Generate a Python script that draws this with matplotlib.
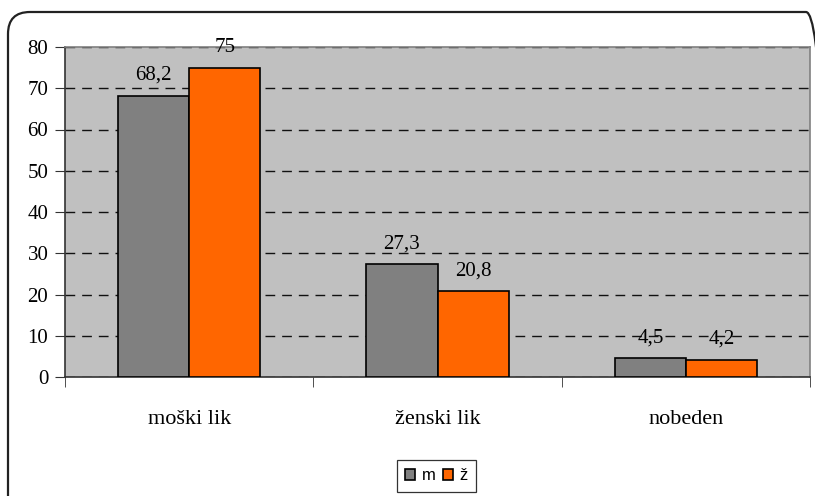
import matplotlib
matplotlib.use("Agg")
import matplotlib.pyplot as plt
import numpy as np
from matplotlib.patches import FancyBboxPatch
from matplotlib.transforms import IdentityTransform

categories = ["moški lik", "ženski lik", "nobeden"]
series_names = ["m", "ž"]
values_m = [68.2, 27.3, 4.5]
values_z = [75, 20.8, 4.2]
labels_m = ["68,2", "27,3", "4,5"]
labels_z = ["75", "20,8", "4,2"]
yticks = [0, 10, 20, 30, 40, 50, 60, 70, 80]

W, H = 815, 496
fig = plt.figure(figsize=(W / 100, H / 100), dpi=100)
fig.patch.set_facecolor("white")

# rounded outer frame (runs off the right and bottom edges)
frame = FancyBboxPatch((8, -40), 820, 484 + 40, boxstyle="round,pad=0,rounding_size=22",
                       transform=IdentityTransform(), facecolor="none",
                       edgecolor="#222222", linewidth=1.6, zorder=0)
fig.patches.append(frame)

left, right, top, bottom = 65, 810, 47, 377
ax = fig.add_axes([left / W, 1 - bottom / H, (right - left) / W, (bottom - top) / H])
ax.set_facecolor("#C0C0C0")

x = np.arange(len(categories))
bw = 0.286
serif = "Liberation Serif"
fs = 15

ax.bar(x - bw / 2, values_m, bw, color="#808080", edgecolor="black", linewidth=1.2,
       label=series_names[0], zorder=3)
ax.bar(x + bw / 2, values_z, bw, color="#FF6600", edgecolor="black", linewidth=1.2,
       label=series_names[1], zorder=3)

for xi, v, t in zip(x, values_m, labels_m):
    ax.text(xi - bw / 2, v + 3.8, t, ha="center", va="baseline", fontsize=fs,
            family=serif, zorder=4)
for xi, v, t in zip(x, values_z, labels_z):
    ax.text(xi + bw / 2, v + 3.8, t, ha="center", va="baseline", fontsize=fs,
            family=serif, zorder=4)

ax.set_xlim(-0.5, len(categories) - 0.5)
ax.set_ylim(0, 80)
ax.set_yticks(yticks)
ax.set_yticklabels([str(t) for t in yticks], family=serif, fontsize=fs)
ax.yaxis.grid(True, color="#111111", linestyle=(0, (7, 5)), linewidth=1.0, zorder=1)
ax.set_axisbelow(True)

ax.set_xticks(np.arange(len(categories) + 1) - 0.5, minor=True)
ax.set_xticks(x)
ax.set_xticklabels(categories, family=serif, fontsize=16)
ax.tick_params(axis="x", which="major", length=0, pad=24)
ax.tick_params(axis="x", which="minor", length=7, direction="out", color="#333333")
ax.tick_params(axis="y", length=7, direction="out", color="#333333", pad=5)

for side in ["top", "right"]:
    ax.spines[side].set_color("#808080")
    ax.spines[side].set_linewidth(1.2)
for side in ["left", "bottom"]:
    ax.spines[side].set_color("#333333")
    ax.spines[side].set_linewidth(1.2)

leg = ax.legend(loc="center", bbox_to_anchor=(436.5 / W, 1 - 476 / H),
                bbox_transform=fig.transFigure, ncol=2, frameon=True, fancybox=False,
                edgecolor="black", handlelength=0.6, handleheight=0.6,
                handletextpad=0.4, columnspacing=0.4, borderpad=0.5,
                prop={"family": "Liberation Sans", "size": 12})
leg.get_frame().set_linewidth(0.9)
for h in leg.legend_handles:
    h.set_linewidth(1.2)

fig.savefig("out.png", dpi=100)
